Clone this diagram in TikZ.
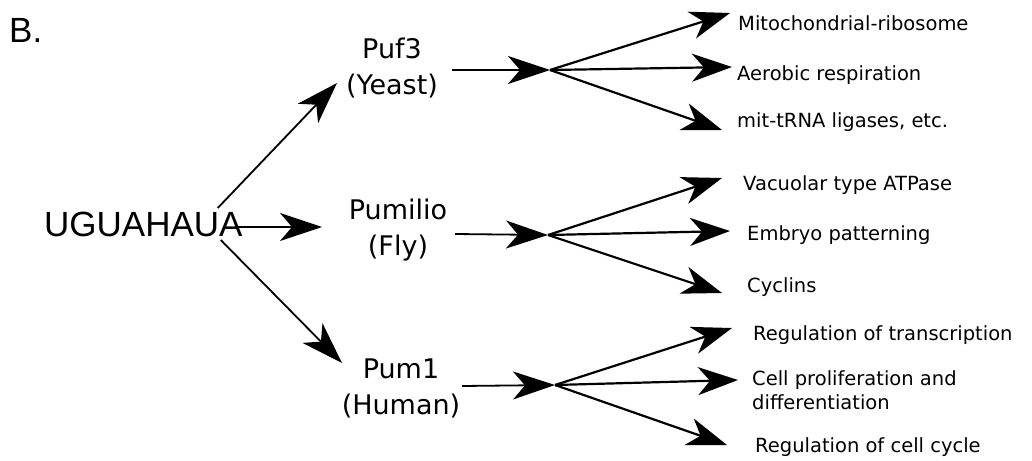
\documentclass[tikz,border=0pt]{standalone}
\usepackage{fontspec}
\setmainfont{DejaVu Sans}
\newfontfamily\arialfont{Liberation Sans}
\usetikzlibrary{arrows.meta}
\begin{document}
\begin{tikzpicture}[x=1pt,y=-1pt,
  big/.style={font=\arialfont\fontsize{35}{40}\selectfont, inner sep=0pt},
  species/.style={font=\fontsize{27}{36}\selectfont, align=center, inner sep=0pt},
  target/.style={font=\fontsize{19.5}{24}\selectfont, anchor=west, align=left, inner sep=0pt},
  arr/.style={line width=1.8pt, -{Stealth[length=42pt,width=28pt,inset=12pt]}},
  fan/.style={line width=2.2pt, -{Stealth[length=40pt,width=28pt,inset=12pt]}}
]
\useasboundingbox (0,0) rectangle (1032,460);

% panel letter and motif
\node[big, anchor=base west] (panel) at (9,43) {B.};
\node[big, anchor=base west] (ugua) at (44,236) {UGUAHAUA};

% the three PUF proteins
\node[species] (puf) at (392,68) {Puf3\\(Yeast)};
\node[species] (pum) at (398,230) {Pumilio\\(Fly)};
\node[species] (hum) at (401,388) {Pum1\\(Human)};

% motif to each protein
\draw[arr] ([shift={(-25,-28)}]ugua.base east) -- ([shift={(-55,15)}]puf.center);
\draw[arr] ([shift={(-7,-9)}]ugua.base east) -- ([shift={(-76,-3)}]pum.center);
\draw[arr] ([shift={(-22,4)}]ugua.base east) -- ([shift={(-59,-25)}]hum.center);

% branch points
\coordinate (fa) at (550,70);
\coordinate (fb) at (548,235);
\coordinate (fc) at (555,385);

\draw[arr] ([shift={(60,2)}]puf.center) -- (fa);
\draw[arr] ([shift={(57,4)}]pum.center) -- (fb);
\draw[arr] ([shift={(61,-2)}]hum.center) -- (fc);

% target processes
\node[target] (a1) at (738,23) {Mitochondrial-ribosome};
\node[target] (a2) at (737,75) {Aerobic respiration};
\node[target] (a3) at (737,122) {mit-tRNA ligases, etc.};
\node[target] (b1) at (743,185) {Vacuolar type ATPase};
\node[target] (b2) at (747,235) {Embryo patterning};
\node[target] (b3) at (747,287) {Cyclins};
\node[target] (c1) at (753,335) {Regulation of transcription};
\node[target] (c2) at (752,390) {Cell proliferation and\\differentiation};
\node[target] (c3) at (755,447) {Regulation of cell cycle};

% arrow tips in front of each process
\coordinate (ta1) at (730,13);
\coordinate (ta2) at (732,67);
\coordinate (ta3) at (722,130);
\coordinate (tb1) at (722,178);
\coordinate (tb2) at (730,231);
\coordinate (tb3) at (722,293);
\coordinate (tc1) at (732,328);
\coordinate (tc2) at (738,380);
\coordinate (tc3) at (727,445);

\foreach \f/\t in {fa/ta1,fa/ta2,fa/ta3,fb/tb1,fb/tb2,fb/tb3,fc/tc1,fc/tc2,fc/tc3}
  \draw[fan] (\f) -- (\t);
\end{tikzpicture}
\end{document}
